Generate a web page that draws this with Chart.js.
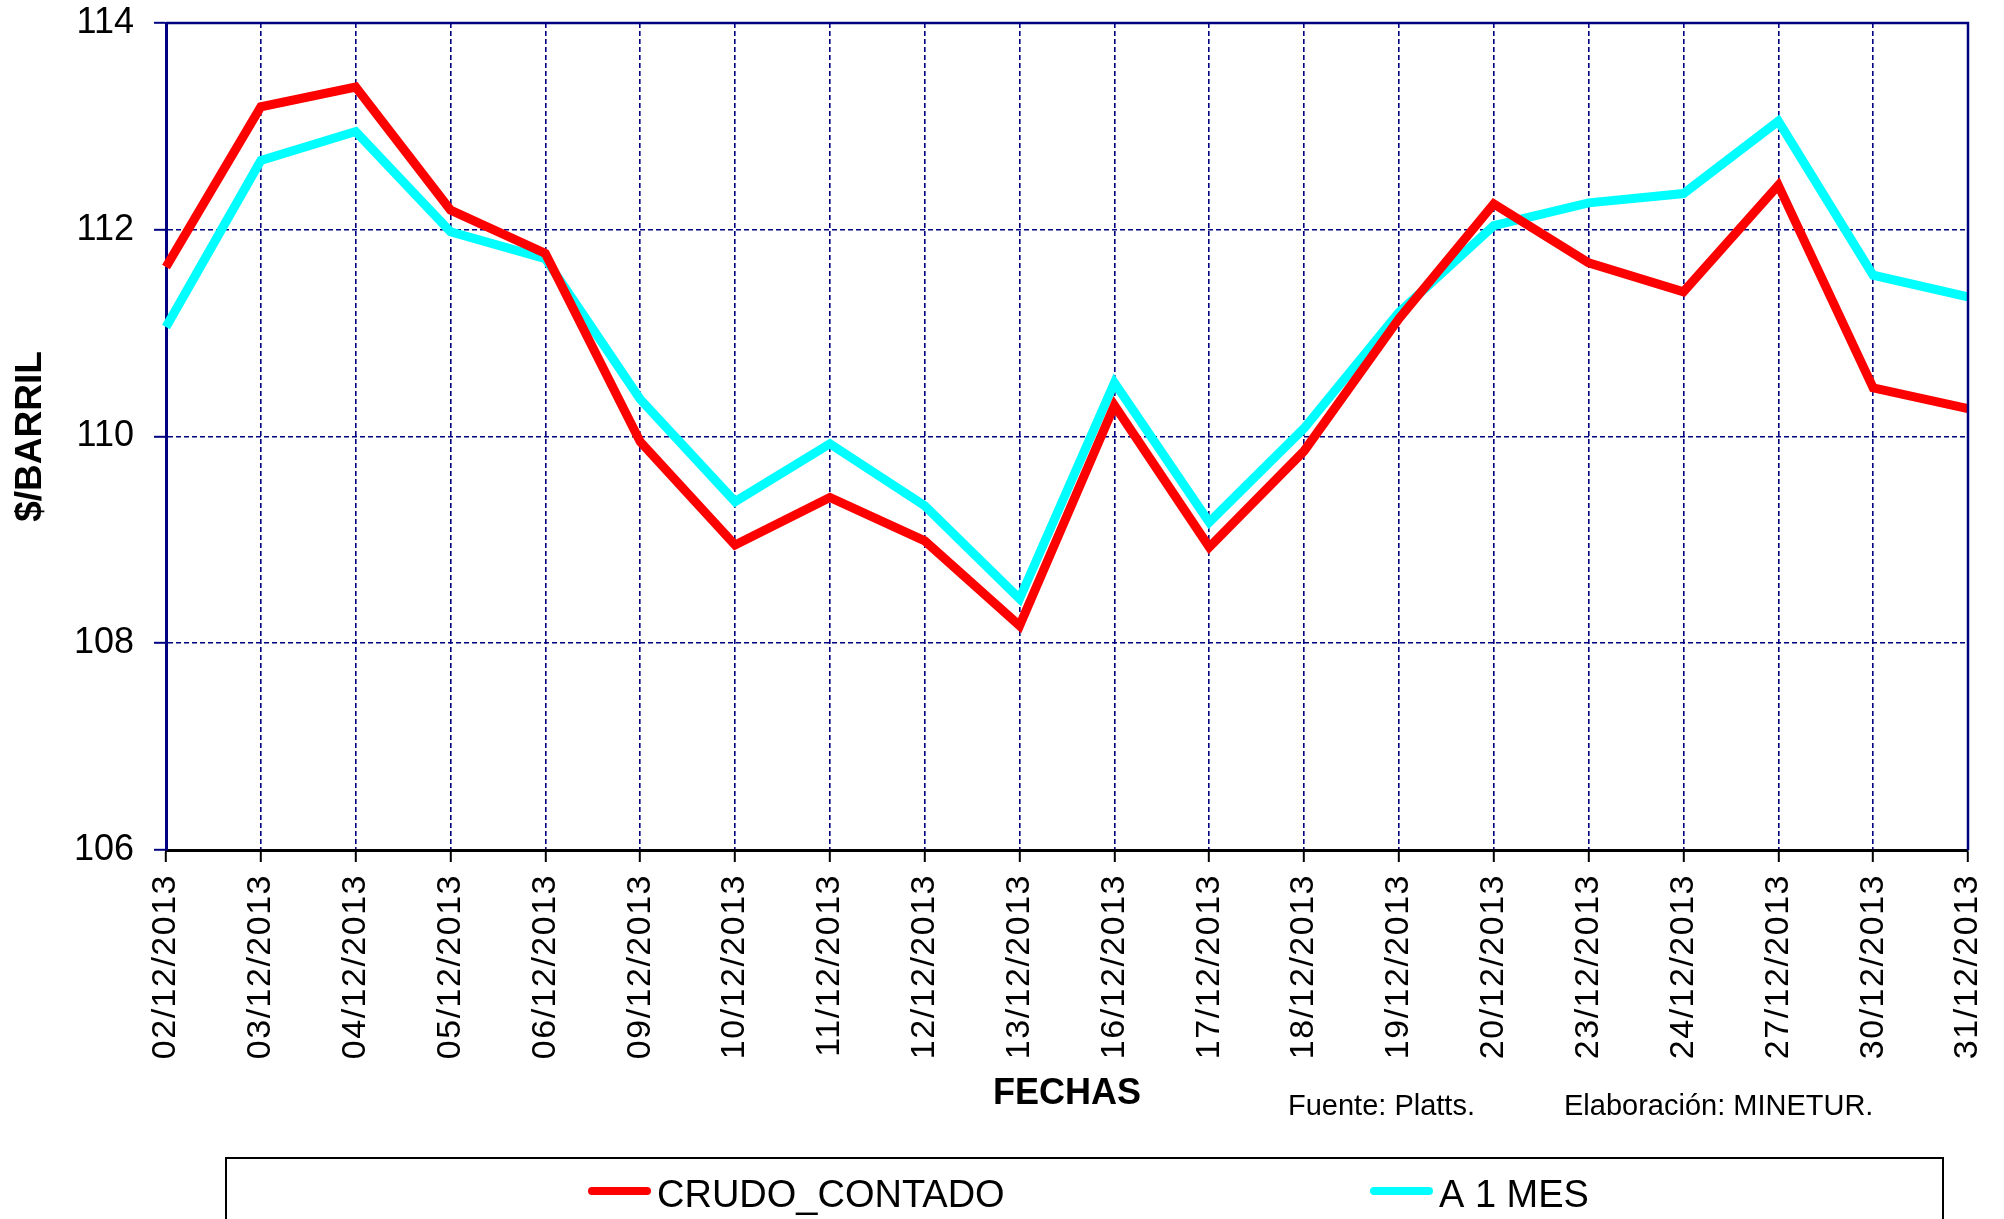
<!DOCTYPE html>
<html>
<head>
<meta charset="utf-8">
<script src="https://cdn.jsdelivr.net/npm/chart.js@4"></script>
<style>
  html, body { margin: 0; padding: 0; background: #fff; }
  canvas { display: block; }
</style>
</head>
<body>
<canvas id="canvas" width="2004" height="1219"></canvas>
<script>
const fechas = [
  "02/12/2013", "03/12/2013", "04/12/2013", "05/12/2013", "06/12/2013",
  "09/12/2013", "10/12/2013", "11/12/2013", "12/12/2013", "13/12/2013",
  "16/12/2013", "17/12/2013", "18/12/2013", "19/12/2013", "20/12/2013",
  "23/12/2013", "24/12/2013", "27/12/2013", "30/12/2013", "31/12/2013"
];

const crudoContado = [
  111.64, 113.19, 113.38, 112.19, 111.77,
  109.95, 108.95, 109.41, 108.99, 108.17,
  110.30, 108.93, 109.86, 111.14, 112.25,
  111.68, 111.40, 112.43, 110.47, 110.27
];

const aUnMes = [
  111.06, 112.67, 112.95, 111.98, 111.72,
  110.36, 109.37, 109.93, 109.33, 108.43,
  110.52, 109.17, 110.08, 111.20, 112.04,
  112.26, 112.35, 113.05, 111.56, 111.35
];

const yTicks = [106, 108, 110, 112, 114];

const NAVY = "#000080";

const canvas = document.getElementById("canvas");
const ctx = canvas.getContext("2d");

// rotated x labels in the picture are a bit spread out
const spacedLabels = {
  id: "spacedLabels",
  afterUpdate(chart) {
    const sc = chart.scales.x;
    if (!sc || sc._spaced) return;
    const orig = sc.drawLabels;
    sc.drawLabels = function (area) {
      const c = this.ctx;
      const prev = c.letterSpacing;
      c.letterSpacing = "1.5px";
      orig.call(this, area);
      c.letterSpacing = prev || "0px";
    };
    sc._spaced = true;
  },
};

// frame, source note and the boxed legend
const extras = {
  id: "extras",
  afterDraw(chart) {
    const c = chart.ctx;
    const a = chart.chartArea;
    c.save();

    c.strokeStyle = NAVY;
    c.lineWidth = 2.5;
    c.beginPath();
    c.moveTo(a.left, a.top);
    c.lineTo(a.right, a.top);
    c.lineTo(a.right, a.bottom);
    c.stroke();

    c.fillStyle = "#000";
    c.font = "29px 'Liberation Sans', Arial, sans-serif";
    c.textBaseline = "middle";
    c.textAlign = "left";
    c.fillText("Fuente: Platts.", 1288, 1107);
    c.fillText("Elaboración: MINETUR.", 1564, 1107);

    c.strokeStyle = "#000";
    c.lineWidth = 2;
    c.strokeRect(226, 1158, 1943 - 226, 120);

    const items = [
      { x: 588, ds: chart.data.datasets[0] },
      { x: 1370, ds: chart.data.datasets[1] },
    ];
    c.font = "38px 'Liberation Sans', Arial, sans-serif";
    c.lineCap = "round";
    items.forEach((it) => {
      c.strokeStyle = it.ds.borderColor;
      c.lineWidth = 8;
      c.beginPath();
      c.moveTo(it.x + 4, 1191);
      c.lineTo(it.x + 59, 1191);
      c.stroke();
      c.fillStyle = "#000";
      c.fillText(it.ds.label, it.x + 69, 1197);
    });

    c.restore();
  },
};

const chart = new Chart(ctx, {
  type: "line",
  data: {
    labels: fechas,
    datasets: [
      {
        label: "CRUDO_CONTADO",
        data: crudoContado,
        borderColor: "#FF0000",
        backgroundColor: "#FF0000",
        borderWidth: 9,
        pointRadius: 0,
        tension: 0,
      },
      {
        label: "A 1 MES",
        data: aUnMes,
        borderColor: "#00FFFF",
        backgroundColor: "#00FFFF",
        borderWidth: 9,
        pointRadius: 0,
        tension: 0,
      },
    ],
  },
  options: {
    responsive: false,
    animation: false,
    layout: {
      padding: { left: 0, top: 23, right: 36, bottom: 103 },
    },
    plugins: {
      legend: { display: false },
      tooltip: { enabled: false },
    },
    scales: {
      x: {
        type: "category",
        offset: false,
        afterFit: (s) => { s.height = 266; s.paddingLeft = 0; s.paddingRight = 0; },
        grid: {
          offset: false,
          color: NAVY,
          lineWidth: 1.6,
          tickColor: "#000",
          tickLength: 12,
          tickWidth: 2,
          tickBorderDash: [],
        },
        border: { display: true, color: "#000", width: 3, dash: [5, 3] },
        ticks: {
          color: "#000",
          minRotation: 90,
          maxRotation: 90,
          autoSkip: false,
          padding: 12,
          font: { family: "'Liberation Sans', Arial, sans-serif", size: 34 },
        },
        title: {
          display: true,
          text: "FECHAS",
          color: "#000",
          padding: { top: 4, bottom: 0 },
          font: { family: "'Liberation Sans', Arial, sans-serif", size: 36, weight: "bold" },
        },
      },
      y: {
        min: yTicks[0],
        max: yTicks[yTicks.length - 1],
        afterFit: (s) => { s.width = 166; s.paddingTop = 0; s.paddingBottom = 0; },
        afterBuildTicks: (s) => { s.ticks = yTicks.map((v) => ({ value: v })); },
        grid: {
          color: NAVY,
          lineWidth: 1.6,
          tickColor: NAVY,
          tickLength: 12,
          tickWidth: 2,
          tickBorderDash: [],
        },
        border: { display: true, color: NAVY, width: 3, dash: [5, 3] },
        ticks: {
          color: "#000",
          padding: 20,
          font: { family: "'Liberation Sans', Arial, sans-serif", size: 36 },
        },
        title: {
          display: true,
          text: "$/BARRIL",
          color: "#000",
          padding: { top: 9, bottom: 0 },
          font: { family: "'Liberation Sans', Arial, sans-serif", size: 37, weight: "bold" },
        },
      },
    },
  },
  plugins: [spacedLabels, extras],
});
</script>
</body>
</html>
